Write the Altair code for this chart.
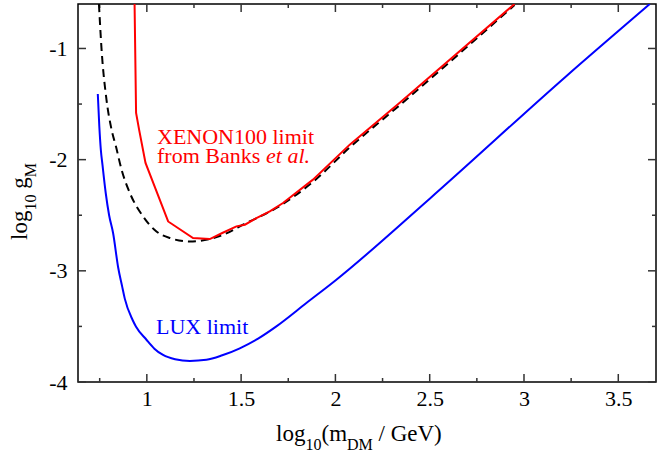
import altair as alt
import pandas as pd

# ---- data ----
lux_x = [0.740, 0.748, 0.756, 0.765, 0.782, 0.800, 0.821, 0.848, 0.869, 0.883, 0.924, 0.942,
         0.998, 1.04, 1.086, 1.15, 1.228, 1.316, 1.40, 1.493, 1.59, 1.687, 1.846, 2.005,
         2.5, 3.224, 3.667]
lux_y = [-1.41, -1.70, -1.91, -2.05, -2.30, -2.50, -2.66, -2.97, -3.14, -3.25, -3.44, -3.50,
         -3.62, -3.70, -3.757, -3.795, -3.81, -3.80, -3.76, -3.697, -3.61, -3.50, -3.29, -3.08,
         -2.351, -1.249, -0.6]

xen_x = [0.935, 0.943, 0.959, 0.993, 1.113, 1.245, 1.334, 1.40, 1.475, 1.52, 1.581, 1.652,
         1.722, 1.881, 2.076, 2.341, 2.95]
xen_y = [-0.6, -1.58, -1.73, -2.03, -2.556, -2.705, -2.714, -2.66, -2.60, -2.585, -2.525, -2.466,
         -2.39, -2.18, -1.865, -1.489, -0.6]

dash_x = [0.746, 0.760, 0.786, 0.813, 0.836, 0.866, 0.910, 0.980, 1.051, 1.122, 1.228, 1.30,
          1.404, 1.528, 1.687, 1.881, 2.076, 2.341, 2.95]
dash_y = [-0.6, -1.01, -1.46, -1.73, -1.88, -2.09, -2.30, -2.51, -2.646, -2.705, -2.736, -2.725,
          -2.676, -2.57, -2.435, -2.20, -1.89, -1.51, -0.61]

x_major = [1, 1.5, 2, 2.5, 3, 3.5]
x_minor = [0.75, 1.25, 1.75, 2.25, 2.75, 3.25]
y_major = [-4, -3, -2, -1]
y_minor = [-3.5, -2.5, -1.5]

xen_label = ["XENON100 limit", "from Banks ", "et al."]
lux_label = "LUX limit"
xtitle_parts = ["log", "10", "(m", "DM", "/ GeV)"]
ytitle_parts = ["log", "10", "g", "M"]

# ---- layout ----
W, H = 578, 378
FONT = "Liberation Serif"
RED, BLUE = "#ff0000", "#0000ff"
TICK_COLOR = "#333333"

xscale = alt.Scale(domain=[0.635, 3.7], nice=False, zero=False)
yscale = alt.Scale(domain=[-4.0, -0.6], nice=False, zero=False)

xaxis = alt.Axis(values=x_major, ticks=False, domain=False, grid=False, title=None,
                 labelFont=FONT, labelFontSize=22, labelColor="black", labelPadding=6,
                 labelExpr="'' + datum.value", labelFlush=False)
yaxis = alt.Axis(values=y_major, ticks=False, domain=False, grid=False, title=None,
                 labelFont=FONT, labelFontSize=22, labelColor="black", labelPadding=11,
                 labelExpr="'' + datum.value", labelFlush=False)

lux = pd.DataFrame({"x": lux_x, "y": lux_y})
xen = pd.DataFrame({"x": xen_x, "y": xen_y})
dsh = pd.DataFrame({"x": dash_x, "y": dash_y})

def line(df, color, **kw):
    return alt.Chart(df).mark_line(color=color, strokeWidth=2, clip=True, **kw).encode(
        x=alt.X("x:Q", scale=xscale, axis=xaxis),
        y=alt.Y("y:Q", scale=yscale, axis=yaxis),
        order=alt.Order("x:Q"),
    )

lux_line = line(lux, BLUE, interpolate="monotone")
dash_line = line(dsh, "black", interpolate="monotone", strokeDash=[8, 5])
xen_line = line(xen, RED)

def xticks(vals, y0, y1):
    return alt.Chart(pd.DataFrame({"v": vals})).mark_rule(color=TICK_COLOR, strokeWidth=1.5).encode(
        x=alt.X("v:Q", scale=xscale, axis=xaxis), y=alt.value(y0), y2=alt.value(y1))

def yticks(vals, x0, x1):
    return alt.Chart(pd.DataFrame({"v": vals})).mark_rule(color=TICK_COLOR, strokeWidth=1.5).encode(
        y=alt.Y("v:Q", scale=yscale, axis=yaxis), x=alt.value(x0), x2=alt.value(x1))

ticks = [
    xticks(x_major, H, H - 8), xticks(x_minor, H, H - 4),
    xticks(x_major, 0, 8), xticks(x_minor, 0, 4),
    yticks(y_major, 0, 8), yticks(y_minor, 0, 4),
    yticks(y_major, W, W - 8), yticks(y_minor, W, W - 4),
]

one = pd.DataFrame({"a": [0]})

def txt(s, x, y, size=22, color="black", style="normal", angle=0):
    return alt.Chart(one).mark_text(font=FONT, fontSize=size, color=color, fontStyle=style,
                                    align="left", baseline="alphabetic", angle=angle).encode(
        x=alt.value(x), y=alt.value(y), text=alt.value(s))

# plot-area coordinates: origin at (78, 4) of the page
ox, oy = 78, 4
texts = [
    txt(xen_label[0], 157 - ox, 144 - oy, color=RED),
    txt(xen_label[1], 157 - ox, 163 - oy, color=RED),
    txt(xen_label[2], 266 - ox, 163 - oy, color=RED, style="italic"),
    txt(lux_label, 156 - ox, 334 - oy, color=BLUE),
    # x title
    txt(xtitle_parts[0], 276 - ox, 441 - oy, size=23),
    txt(xtitle_parts[1], 305.5 - ox, 450 - oy, size=16),
    txt(xtitle_parts[2], 321.5 - ox, 441 - oy, size=23),
    txt(xtitle_parts[3], 347 - ox, 450 - oy, size=16),
    txt(xtitle_parts[4], 378.5 - ox, 441 - oy, size=23),
    # y title (rotated)
    txt(ytitle_parts[0], 27 - ox, 240 - oy, size=23, angle=270),
    txt(ytitle_parts[1], 36 - ox, 210.6 - oy, size=16, angle=270),
    txt(ytitle_parts[2], 27 - ox, 188.8 - oy, size=23, angle=270),
    txt(ytitle_parts[3], 36 - ox, 177.3 - oy, size=16, angle=270),
]

chart = alt.layer(*ticks, lux_line, dash_line, xen_line, *texts).properties(
    width=W, height=H,
    autosize=alt.AutoSizeParams(type="none"),
    padding={"left": 78, "top": 4, "right": 10, "bottom": 71},
    background="white",
).configure_view(stroke="black", strokeWidth=1.5)

chart.save("out.html", embed_options={"renderer": "svg", "actions": False})
